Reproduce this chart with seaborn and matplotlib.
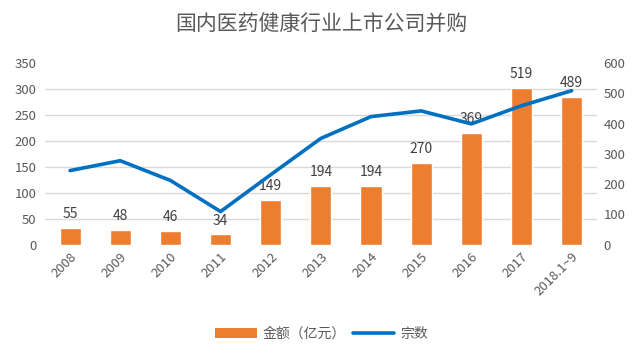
import numpy as np
import pandas as pd
import matplotlib
matplotlib.use("Agg")
import matplotlib.pyplot as plt
import seaborn as sns
from matplotlib.patches import Patch
from matplotlib.lines import Line2D

years = ["2008", "2009", "2010", "2011", "2012", "2013", "2014", "2015", "2016", "2017", "2018.1~9"]
bar_values = [55, 48, 46, 34, 149, 194, 194, 270, 369, 519, 489]
line_values = [143, 162, 124, 64, 135, 205, 247, 258, 233, 268, 297]
left_ticks = [0, 50, 100, 150, 200, 250, 300, 350]
right_ticks = [0, 100, 200, 300, 400, 500, 600]

bar_color = "#ED7D31"
line_color = "#0070C0"
text_color = "#595959"

sns.set_style("white")
plt.rcParams["font.family"] = ["Noto Sans CJK SC", "DejaVu Sans"]

df = pd.DataFrame({"year": years, "amount": bar_values, "count": line_values})

fig, ax = plt.subplots(figsize=(6.43, 3.61), dpi=100)
fig.subplots_adjust(left=0.07, right=0.928, top=0.825, bottom=0.322)
ax2 = ax.twinx()

# bars on the secondary (right, 0-600) axis, drawn underneath
sns.barplot(data=df, x="year", y="amount", ax=ax2, color=bar_color,
            width=0.42, saturation=1, zorder=2)
ax2.bar_label(ax2.containers[0], padding=5, fontsize=10, color="#404040")
ax2.set_ylim(0, 600)
ax2.set_yticks(right_ticks)
# gridlines follow the left axis scale
ax2.set_yticks(np.array(left_ticks) * 600 / 350, minor=True)
ax2.grid(which="minor", axis="y", color="#D9D9D9", linewidth=1, zorder=0)
ax2.set_axisbelow(True)
ax2.tick_params(which="both", length=0, labelsize=9.5, labelcolor=text_color, pad=5)
ax2.set_ylabel("")

# line on the primary (left, 0-350) axis, drawn on top
ax.set_zorder(ax2.get_zorder() + 1)
ax.patch.set_visible(False)
sns.lineplot(data=df, x="year", y="count", ax=ax, color=line_color,
             linewidth=2.6, sort=False)
ax.set_ylim(0, 350)
ax.set_yticks(left_ticks)
ax.set_xlim(-0.5, len(years) - 0.5)
ax.tick_params(length=0, labelsize=9.5, labelcolor=text_color)
ax.tick_params(axis="y", pad=6)
ax.tick_params(axis="x", pad=4)
ax.set_xticks(range(len(years)))
ax.set_xticklabels(years, rotation=45, ha="right", rotation_mode="anchor")
ax.set_xlabel("")
ax.set_ylabel("")
ax2.set_xlabel("")

for a in (ax, ax2):
    for s in a.spines.values():
        s.set_visible(False)

fig.suptitle("国内医药健康行业上市公司并购", x=0.5, y=0.965, fontsize=15, color=text_color)

handles = [Patch(facecolor=bar_color, edgecolor="none"),
           Line2D([0], [0], color=line_color, linewidth=2.6)]
fig.legend(handles, ["金额（亿元）", "宗数"], loc="center", bbox_to_anchor=(0.5, 0.075),
           ncol=2, frameon=False, fontsize=10, handlelength=3, columnspacing=0.5,
           handletextpad=0.4, labelcolor=text_color)

fig.savefig("out.png", dpi=100)
